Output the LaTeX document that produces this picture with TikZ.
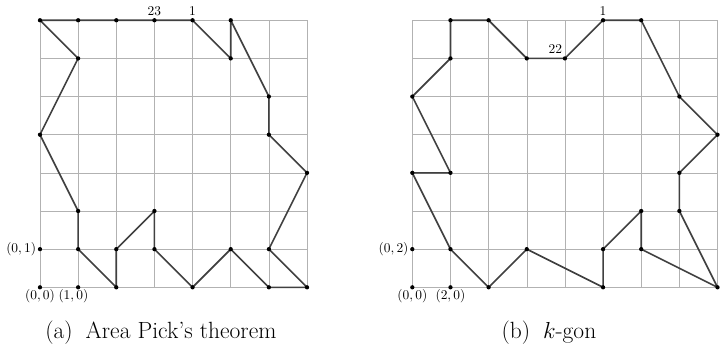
\documentclass[tikz,border=0pt]{standalone}
\begin{document}
\begin{tikzpicture}[
  gridline/.style={gray!60, line width=0.4pt},
  polyline/.style={black!75, line width=1.2pt, line join=round},
  numlbl/.style={font=\fontsize{10}{11}\selectfont, inner sep=1pt, anchor=south, yshift=2.2pt},
  ptlbl/.style={font=\fontsize{10.3}{12}\selectfont, inner sep=1.1pt},
  caplbl/.style={font=\fontsize{17.5}{20}\selectfont, anchor=base}]
  \useasboundingbox (-1.048,-1.748) rectangle (17.93,7.531);

  % left grid
  \draw[gridline] (0,0) grid (7,7);
  \foreach \x/\y [count=\i] in {4/7,5/6,5/7,6/5,6/4,7/3,6/1,7/0,6/0,5/1,4/0,3/1,
      3/2,2/1,2/0,1/1,1/2,0/4,1/6,0/7,1/7,2/7,3/7}
    \coordinate (a\i) at (\x,\y);
  \draw[polyline] (a1) \foreach \i in {2,...,23} { -- (a\i) } -- cycle;
  \foreach \i in {1,...,23} \fill (a\i) circle (1.6pt);

  % lattice points for the left grid
  \coordinate (ao) at (0,0);
  \coordinate (ax) at (1,0);
  \coordinate (ay) at (0,1);
  \foreach \p in {ao,ax,ay} \fill (\p) circle (1.6pt);
  \node[ptlbl, below] (lo) at (ao) {$(0,0)$};
  \node[ptlbl, below, xshift=-3.5pt] (lx) at (ax) {$(1,0)$};
  \node[ptlbl, left=1.6pt] (ly) at (ay) {$(0,1)$};
  \node[numlbl] (la1) at (a1) {1};
  \node[numlbl] (la23) at (a23) {23};

  % right grid
  \begin{scope}[xshift=9.76cm]
    \draw[gridline] (0,0) grid (8,7);
    \foreach \x/\y [count=\i] in {5/7,6/7,7/5,8/4,7/3,7/2,8/0,6/1,6/2,5/1,5/0,3/1,
        2/0,1/1,0/3,1/3,0/5,1/6,1/7,2/7,3/6,4/6}
      \coordinate (b\i) at (\x,\y);
    \draw[polyline] (b1) \foreach \i in {2,...,22} { -- (b\i) } -- cycle;
    \foreach \i in {1,...,22} \fill (b\i) circle (1.6pt);

    % lattice points for the right grid
    \coordinate (bo) at (0,0);
    \coordinate (bx) at (1,0);
    \coordinate (by) at (0,1);
    \foreach \p in {bo,bx,by} \fill (\p) circle (1.6pt);
    \node[ptlbl, below] (ro) at (bo) {$(0,0)$};
    \node[ptlbl, below] (rx) at (bx) {$(2,0)$};
    \node[ptlbl, left=1.6pt] (ry) at (by) {$(0,2)$};
    \node[numlbl] (lb1) at (b1) {1};
    \node[numlbl, anchor=south east, xshift=-1pt] (lb22) at (b22) {22};
  \end{scope}

  % captions
  \node[caplbl] (capa) at (3.17,-1.34) {(a)\hspace{0.55em}Area Pick's theorem};
  \node[caplbl] (capb) at (13.34,-1.34) {(b)\hspace{0.55em}$k$-gon};
\end{tikzpicture}
\end{document}
